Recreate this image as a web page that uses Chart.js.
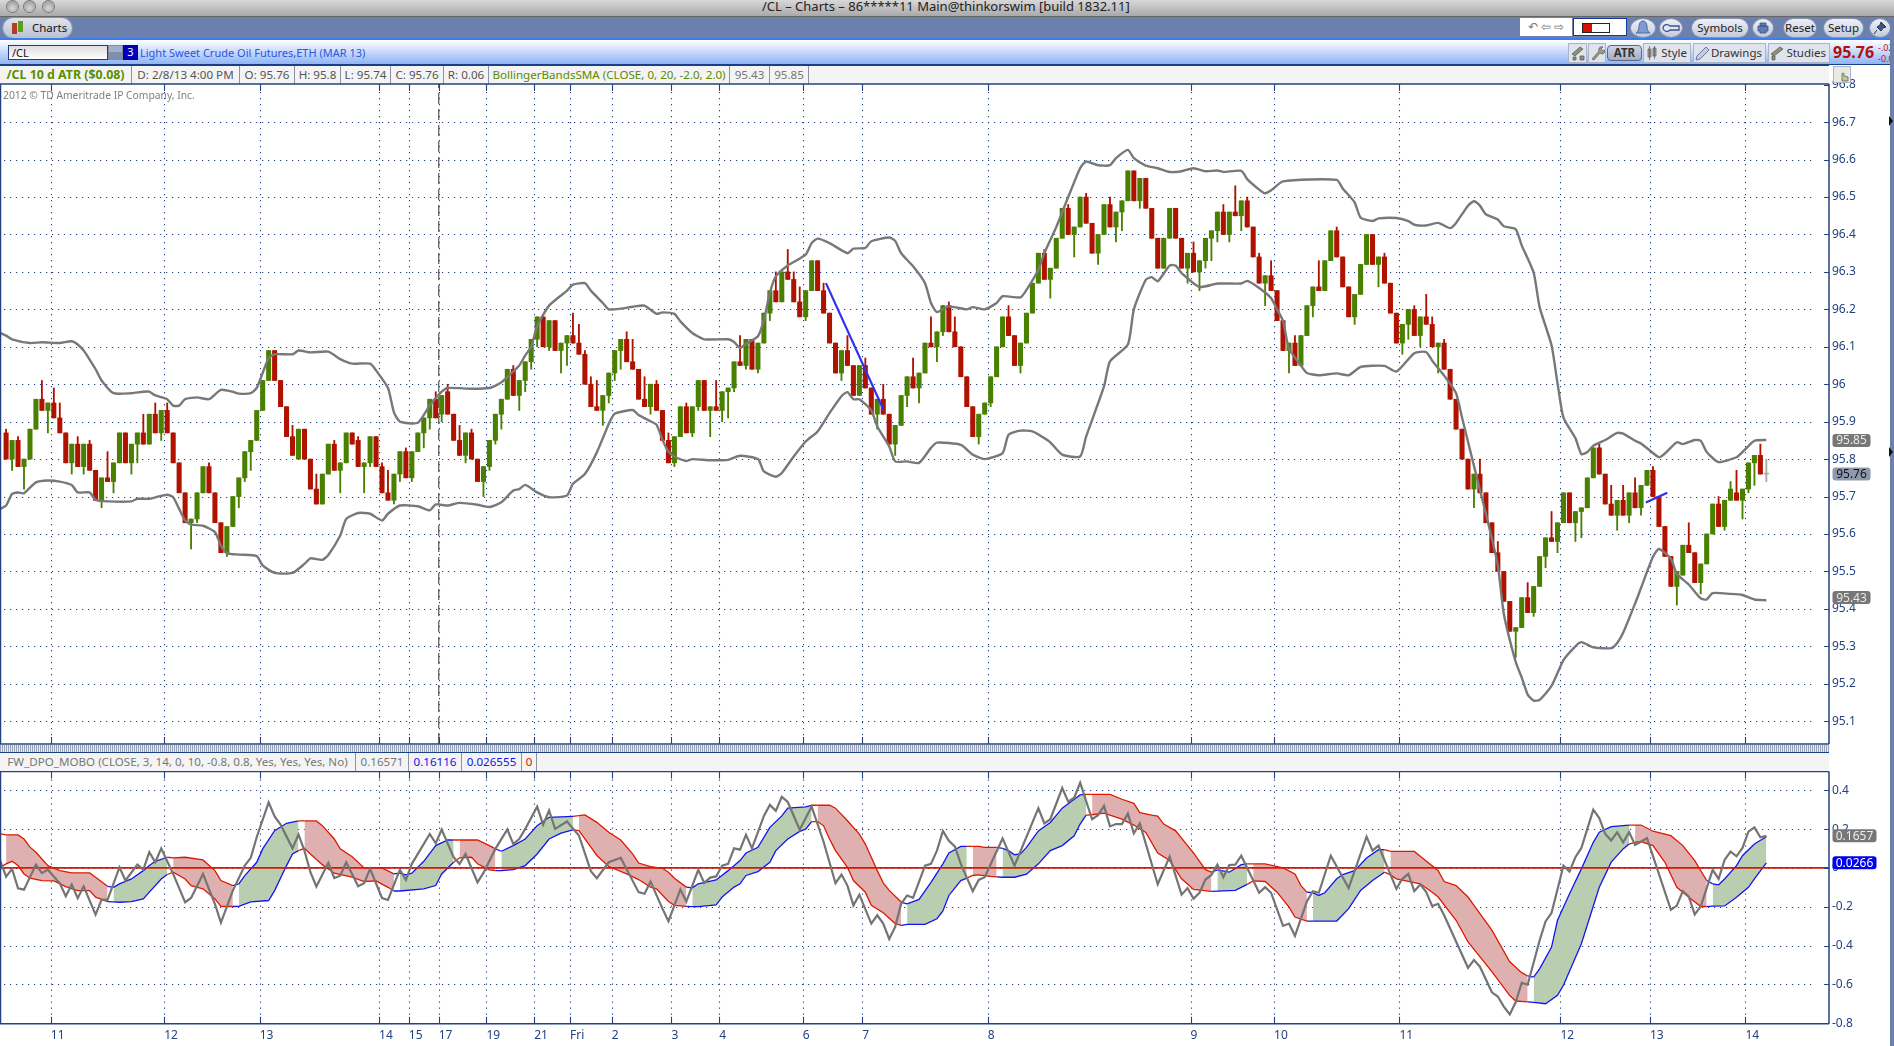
<!DOCTYPE html>
<html><head><meta charset="utf-8">
<script src="https://cdn.jsdelivr.net/npm/chart.js@4/dist/chart.umd.min.js"></script>
<style>
html,body{margin:0;padding:0;background:#fff;width:1894px;height:1046px;overflow:hidden;font-family:"Noto Sans",sans-serif}
.a{position:absolute;white-space:nowrap;box-sizing:border-box}
canvas{position:absolute;display:block}
.cell{position:absolute;top:0;height:100%;border-right:1px solid #8a93a8;font-size:11.6px;line-height:18px;text-align:center;color:#555;box-sizing:border-box;white-space:nowrap}
.pill{position:absolute;top:19px;height:18px;border-radius:9px;background:linear-gradient(#eef0f5,#c3cad9);box-shadow:0 0 0 1px #8092b8;font-size:11.5px;line-height:18px;text-align:center;color:#222}
.btn{position:absolute;top:43px;height:20px;background:#dfe3ec;border:1px solid #a9b4cc;font-size:11.5px;line-height:17px;text-align:right;padding-right:3px;color:#333;box-sizing:border-box}
.dot{position:absolute;top:1px;width:11px;height:11px;border-radius:50%;background:radial-gradient(circle at 50% 65%,#d8d8d8,#8e8e8e);box-shadow:0 0 0 1px #777}
svg.i{position:absolute;z-index:3}
</style></head><body>
<div class="a" style="left:0;top:0;width:1894px;height:17px;background:linear-gradient(#d8d8d8,#a9a9a9);border-bottom:1px solid #666"></div>
<div class="dot" style="left:7px"></div><div class="dot" style="left:24px"></div><div class="dot" style="left:43px"></div>
<div class="a" style="left:762px;top:-2px;font-size:13px;color:#222;line-height:17px">/CL – Charts – 86*****11 Main@thinkorswim [build 1832.11]</div>
<div class="a" style="left:0;top:17px;width:1894px;height:21px;background:#6b80ad"></div>
<div class="a" style="left:3px;top:18px;width:69px;height:20px;border-radius:10px;background:linear-gradient(#dfe3ea,#b9c1d2);box-shadow:0 0 0 1px #8092b8;font-size:11.5px;line-height:20px;padding-left:29px;color:#111">Charts</div>
<div class="a" style="left:12px;top:23px;width:5px;height:11px;background:#b53a2a"></div><div class="a" style="left:18px;top:21px;width:5px;height:11px;background:#5aa020"></div>
<div class="a" style="left:1520px;top:18px;width:52px;height:18px;background:#fff;font-size:12px;line-height:17px;color:#777;text-align:center">↶ ⇦ ⇨</div>
<div class="a" style="left:1573px;top:18px;width:54px;height:18px;background:#fff;border:1px solid #123a9a"></div>
<div class="a" style="left:1582px;top:23px;width:28px;height:10px;background:linear-gradient(90deg,#d81000 33%,#fff 33%);border:1px solid #222"></div>
<div class="pill" style="left:1631px;width:24px;border-radius:50%">&nbsp;</div>
<svg class="i" style="left:1635px;top:20px" width="16" height="16" viewBox="0 0 16 16"><path d="M8 1c3 0 4 3 4 6s1 4 3 6H1c2-2 3-3 3-6s1-6 4-6z" fill="#7d9bd0" stroke="#4d6aa5"/></svg>
<div class="pill" style="left:1660px;width:22px;border-radius:50%">&nbsp;</div>
<svg class="i" style="left:1662px;top:23px" width="18" height="10" viewBox="0 0 18 10"><path d="M1 5a4 4 0 0 1 7-2h9v4H8a4 4 0 0 1-7-2z" fill="#dfe6f4" stroke="#3d5587" stroke-width="1.3"/></svg>
<div class="pill" style="left:1692px;width:56px">Symbols</div>
<div class="pill" style="left:1753px;width:20px;border-radius:50%">&nbsp;</div>
<svg class="i" style="left:1757px;top:22px" width="12" height="12" viewBox="0 0 12 12"><path d="M3 1h6v3H3zM1 4h10v5H9v2H3V9H1z" fill="#5d7bb5" stroke="#34507f" stroke-width=".8"/></svg>
<div class="pill" style="left:1784px;width:32px">Reset</div>
<div class="pill" style="left:1824px;width:39px">Setup</div>
<div class="pill" style="left:1870px;width:20px;border-radius:50%">&nbsp;</div>
<svg class="i" style="left:1873px;top:21px" width="14" height="14" viewBox="0 0 14 14"><path d="M8 1l5 5-3 1-2 3-4-4 3-2zM4 9l-3 4" fill="#3d5587" stroke="#24375c"/></svg>
<div class="a" style="left:0;top:38px;width:1894px;height:2px;background:#3d7cf0"></div>
<div class="a" style="left:0;top:40px;width:1890px;height:25px;background:linear-gradient(#ffffff,#8fb4f6);border-bottom:1px solid #1b3f86"></div>
<div class="a" style="left:8px;top:45px;width:100px;height:15px;background:linear-gradient(#ddd,#fff);border:1px solid #1b3f86;font-size:11px;line-height:13px;padding-left:3px;color:#111">/CL</div>
<div class="a" style="left:108px;top:45px;width:15px;height:15px;background:linear-gradient(#9fb0cc 50%,#7c8fb0 50%);border:1px solid #889"></div>
<div class="a" style="left:123px;top:45px;width:15px;height:15px;background:#0000b8;color:#fff;font-size:11px;line-height:14px;text-align:center">3</div>
<div class="a" style="left:140px;top:44px;font-size:11px;line-height:17px;color:#2a55e0">Light Sweet Crude Oil Futures,ETH (MAR 13)</div>
<div class="btn" style="left:1568px;width:19px"></div><div class="btn" style="left:1588px;width:18px"></div>
<svg class="i" style="left:1570px;top:45px" width="16" height="16" viewBox="0 0 16 16"><path d="M2 9l8-7 3 2-8 7zM3 12h3v3H3zM10 11h4v4h-4z" fill="#8c9078" stroke="#555" stroke-width=".7"/></svg>
<svg class="i" style="left:1590px;top:45px" width="15" height="16" viewBox="0 0 15 16"><path d="M2 14l7-8a3 3 0 0 1 4-4l-2 2 2 2 2-1a3 3 0 0 1-5 3l-6 7z" fill="#9a9e88" stroke="#555" stroke-width=".7"/></svg>
<div class="btn" style="left:1607px;width:35px;top:45px;height:16px;background:linear-gradient(#cfd5e2,#a3aec6);border-radius:4px;text-align:center;padding:0;font-weight:700;line-height:14px;border-color:#667">ATR</div>
<div class="btn" style="left:1643px;width:48px">Style</div>
<svg class="i" style="left:1645px;top:45px" width="14" height="16" viewBox="0 0 14 16"><path d="M3 4h3v8H3zM8 3h3v8H8zM4.500 1v14M9.500 1v13" fill="#9aa088" stroke="#666" stroke-width=".8"/></svg>
<div class="btn" style="left:1693px;width:73px">Drawings</div>
<svg class="i" style="left:1695px;top:45px" width="15" height="16" viewBox="0 0 15 16"><path d="M1 15l1-4 9-9 3 3-9 9z" fill="#c4cdde" stroke="#6b7896"/></svg>
<div class="btn" style="left:1768px;width:62px">Studies</div>
<svg class="i" style="left:1769px;top:45px" width="16" height="16" viewBox="0 0 16 16"><path d="M2 9l9-7 3 2-9 7zM3 11h3v4H3z" fill="#8c9078" stroke="#555" stroke-width=".7"/></svg>
<div class="a" style="left:1833px;top:42px;font-size:16px;font-weight:700;color:#b01010;line-height:20px">95.76</div>
<div class="a" style="left:1878px;top:42px;font-size:9px;color:#c01010;line-height:11px;width:12px;overflow:hidden">-.02<br>-0.0</div>
<div class="a" style="left:0;top:65px;width:1829px;height:19px;background:#f4f4f4;border-top:1px solid #1b3f86"></div>
<div class="a" style="left:0;top:66px;width:809px;height:18px">
<div class="cell" style="left:0;width:132px;color:#5a9000;font-weight:700;font-size:12.4px">/CL 10 d ATR ($0.08)</div>
<div class="cell" style="left:132px;width:108px">D: 2/8/13 4:00 PM</div>
<div class="cell" style="left:240px;width:55px">O: 95.76</div>
<div class="cell" style="left:295px;width:46px">H: 95.8</div>
<div class="cell" style="left:341px;width:50px">L: 95.74</div>
<div class="cell" style="left:391px;width:53px">C: 95.76</div>
<div class="cell" style="left:444px;width:45px">R: 0.06</div>
<div class="cell" style="left:489px;width:241px;color:#5a8a00">BollingerBandsSMA (CLOSE, 0, 20, -2.0, 2.0)</div>
<div class="cell" style="left:730px;width:40px;color:#777">95.43</div>
<div class="cell" style="left:770px;width:39px;color:#777">95.85</div>
</div>
<div class="a" style="left:1833px;top:66px;width:18px;height:17px;background:#e6eadf;border:1px solid #a9b4cc;z-index:5"></div>
<svg class="i" style="left:1836px;top:68px;z-index:6" width="14" height="14" viewBox="0 0 14 14"><path d="M6 13V6a1 1 0 0 1 2 0v2l4 1v4z" fill="#c9c68a" stroke="#666" stroke-width=".8"/></svg>
<div class="a" style="left:3px;top:88px;font-size:10.3px;line-height:14px;color:#808080;z-index:5">2012 © TD Ameritrade IP Company, Inc.</div>
<div class="a" style="left:0;top:745px;width:1829px;height:7px;background:repeating-linear-gradient(90deg,#9aa4b8 0 1px,#e8ebf2 1px 2px)"></div>
<div class="a" style="left:0;top:752px;width:1829px;height:20px;background:#f4f4f4;border-top:1px solid #1b3f86"></div>
<div class="a" style="left:0;top:753px;width:537px;height:18px">
<div class="cell" style="left:0;width:356px;color:#777">FW_DPO_MOBO (CLOSE, 3, 14, 0, 10, -0.8, 0.8, Yes, Yes, Yes, No)</div>
<div class="cell" style="left:356px;width:53px;color:#777">0.16571</div>
<div class="cell" style="left:409px;width:53px;color:#1010f0">0.16116</div>
<div class="cell" style="left:462px;width:60px;color:#1010f0">0.026555</div>
<div class="cell" style="left:522px;width:15px;color:#e01000">0</div>
</div>
<div class="a" style="left:1890px;top:17px;width:4px;height:1029px;background:#6b80ad"></div>
<div class="a" style="left:1889px;top:116px;width:0;height:0;border:5px solid transparent;border-left:4px solid #111;z-index:5"></div>
<div class="a" style="left:1889px;top:447px;width:0;height:0;border:5px solid transparent;border-left:4px solid #111;z-index:5"></div>
<canvas id="main" width="1890" height="684" style="left:0;top:66px"></canvas>
<canvas id="lower" width="1890" height="275" style="left:0;top:771px"></canvas>
<script>
const opens=[95.87,95.80,95.85,95.78,95.80,95.88,95.96,95.93,95.95,95.91,
95.87,95.79,95.84,95.78,95.84,95.77,95.69,95.75,95.74,95.79,
95.87,95.79,95.84,95.87,95.84,95.92,95.87,95.93,95.87,95.79,
95.71,95.63,95.64,95.71,95.78,95.71,95.63,95.55,95.62,95.70,
95.75,95.82,95.85,95.93,96.01,96.09,96.01,95.94,95.86,95.80,
95.88,95.80,95.72,95.68,95.76,95.84,95.77,95.79,95.87,95.85,
95.78,95.79,95.86,95.78,95.71,95.69,95.76,95.82,95.75,95.82,
95.87,95.91,95.96,95.92,95.98,95.92,95.85,95.81,95.87,95.80,
95.74,95.78,95.85,95.92,95.96,96.04,95.97,96.01,96.06,96.12,
96.18,96.10,96.17,96.09,96.11,96.13,96.11,96.08,96.00,95.94,
95.93,95.97,96.03,96.09,96.12,96.06,96.04,95.96,95.94,96.00,
95.93,95.85,95.79,95.86,95.94,95.87,95.94,96.01,95.93,95.94,
95.93,95.98,95.99,96.06,96.05,96.12,96.04,96.11,96.19,96.25,
96.22,96.30,96.28,96.22,96.18,96.25,96.33,96.25,96.19,96.11,
96.03,96.09,96.05,95.97,96.05,95.99,95.92,95.96,95.92,95.84,
95.89,95.97,96.02,95.99,96.03,96.11,96.10,96.14,96.21,96.14,
96.10,96.02,95.94,95.86,95.92,95.95,96.02,96.10,96.18,96.13,
96.05,96.11,96.19,96.27,96.35,96.28,96.31,96.39,96.47,96.40,
96.42,96.50,96.43,96.35,96.40,96.48,96.42,96.46,96.49,96.57,
96.49,96.55,96.47,96.39,96.31,96.39,96.47,96.39,96.31,96.35,
96.30,96.33,96.39,96.41,96.46,96.40,96.46,96.45,96.49,96.42,
96.34,96.27,96.29,96.25,96.17,96.09,96.11,96.05,96.13,96.21,
96.26,96.25,96.33,96.41,96.34,96.26,96.18,96.24,96.32,96.40,
96.32,96.34,96.27,96.19,96.11,96.16,96.20,96.13,96.18,96.16,
96.10,96.11,96.04,95.96,95.88,95.80,95.72,95.76,95.71,95.63,
95.55,95.50,95.42,95.34,95.35,95.43,95.39,95.46,95.54,95.59,
95.58,95.63,95.71,95.63,95.66,95.67,95.75,95.83,95.76,95.68,
95.65,95.69,95.65,95.71,95.67,95.73,95.77,95.70,95.62,95.54,
95.46,95.49,95.57,95.55,95.47,95.52,95.60,95.68,95.62,95.69,
95.71,95.69,95.72,95.79,95.81,95.76];
const closes=[95.80,95.85,95.78,95.80,95.88,95.96,95.93,95.95,95.91,95.87,
95.79,95.84,95.78,95.84,95.77,95.69,95.75,95.74,95.79,95.87,
95.79,95.84,95.87,95.84,95.92,95.87,95.93,95.87,95.79,95.71,
95.63,95.64,95.71,95.78,95.71,95.63,95.55,95.62,95.70,95.75,
95.82,95.85,95.93,96.01,96.09,96.01,95.94,95.86,95.81,95.88,
95.80,95.72,95.68,95.76,95.84,95.77,95.79,95.87,95.84,95.78,
95.79,95.86,95.78,95.71,95.69,95.76,95.82,95.75,95.82,95.87,
95.91,95.96,95.91,95.97,95.92,95.85,95.81,95.87,95.80,95.74,
95.78,95.85,95.92,95.96,96.04,95.97,96.01,96.06,96.12,96.18,
96.10,96.17,96.09,96.11,96.13,96.11,96.08,96.00,95.94,95.93,
95.97,96.03,96.09,96.12,96.06,96.04,95.96,95.94,96.00,95.93,
95.85,95.79,95.86,95.94,95.87,95.94,96.01,95.93,95.94,95.93,
95.98,95.99,96.06,96.05,96.12,96.04,96.11,96.19,96.25,96.22,
96.30,96.28,96.22,96.18,96.25,96.33,96.25,96.19,96.11,96.03,
96.09,96.05,95.97,96.05,95.99,95.92,95.96,95.92,95.84,95.89,
95.97,96.02,95.99,96.03,96.11,96.10,96.14,96.21,96.14,96.10,
96.02,95.94,95.86,95.92,95.95,96.02,96.10,96.18,96.13,96.05,
96.11,96.19,96.27,96.35,96.28,96.31,96.39,96.47,96.40,96.42,
96.50,96.43,96.35,96.40,96.48,96.42,96.46,96.49,96.57,96.49,
96.55,96.47,96.39,96.31,96.39,96.47,96.39,96.31,96.35,96.30,
96.33,96.39,96.41,96.46,96.40,96.46,96.45,96.49,96.42,96.34,
96.27,96.29,96.25,96.17,96.09,96.11,96.05,96.13,96.21,96.26,
96.25,96.33,96.41,96.34,96.26,96.18,96.24,96.32,96.40,96.32,
96.34,96.27,96.19,96.11,96.16,96.20,96.13,96.18,96.16,96.10,
96.11,96.04,95.96,95.88,95.80,95.72,95.76,95.71,95.63,95.55,
95.50,95.42,95.34,95.35,95.43,95.39,95.46,95.54,95.59,95.58,
95.63,95.71,95.63,95.66,95.67,95.75,95.83,95.76,95.68,95.65,
95.69,95.65,95.71,95.67,95.73,95.77,95.70,95.62,95.54,95.46,
95.50,95.57,95.55,95.47,95.52,95.60,95.68,95.62,95.69,95.72,
95.69,95.72,95.79,95.81,95.76,95.76];
const highs=[95.88,95.85,95.86,95.80,95.88,95.96,96.01,95.95,95.99,95.95,
95.87,95.84,95.86,95.84,95.85,95.77,95.75,95.82,95.79,95.87,
95.87,95.84,95.87,95.92,95.92,95.95,95.93,95.95,95.87,95.79,
95.71,95.64,95.71,95.78,95.79,95.71,95.63,95.62,95.70,95.75,
95.82,95.85,95.93,96.01,96.09,96.09,96.01,95.94,95.89,95.88,
95.88,95.80,95.76,95.76,95.84,95.85,95.79,95.87,95.87,95.86,
95.79,95.86,95.86,95.79,95.77,95.76,95.82,95.83,95.82,95.87,
95.91,95.96,95.98,95.97,96.00,95.92,95.89,95.87,95.88,95.80,
95.78,95.85,95.92,95.96,96.04,96.05,96.01,96.06,96.12,96.18,
96.18,96.17,96.17,96.11,96.13,96.19,96.16,96.09,96.02,96.01,
95.97,96.03,96.09,96.12,96.14,96.12,96.04,96.02,96.00,96.01,
95.93,95.87,95.86,95.94,95.95,95.94,96.01,96.01,95.94,96.01,
95.98,95.99,96.06,96.13,96.12,96.12,96.11,96.19,96.25,96.30,
96.30,96.36,96.30,96.26,96.25,96.33,96.33,96.27,96.19,96.11,
96.09,96.13,96.05,96.05,96.07,95.99,95.96,96.00,95.92,95.89,
95.97,96.02,96.07,96.03,96.11,96.18,96.14,96.21,96.22,96.18,
96.10,96.02,95.94,95.92,95.95,96.02,96.10,96.18,96.21,96.13,
96.11,96.19,96.27,96.35,96.36,96.31,96.39,96.47,96.48,96.42,
96.50,96.51,96.43,96.40,96.48,96.50,96.46,96.49,96.57,96.57,
96.55,96.55,96.47,96.39,96.39,96.47,96.47,96.39,96.35,96.38,
96.33,96.39,96.41,96.46,96.48,96.46,96.53,96.49,96.50,96.42,
96.35,96.29,96.33,96.25,96.17,96.11,96.13,96.13,96.21,96.26,
96.33,96.33,96.41,96.42,96.34,96.26,96.24,96.32,96.40,96.40,
96.34,96.35,96.27,96.19,96.16,96.20,96.21,96.18,96.24,96.18,
96.11,96.12,96.04,95.96,95.88,95.80,95.76,95.80,95.71,95.63,
95.58,95.50,95.42,95.35,95.43,95.47,95.46,95.54,95.59,95.66,
95.63,95.71,95.71,95.66,95.67,95.75,95.83,95.84,95.76,95.73,
95.69,95.73,95.71,95.75,95.73,95.77,95.78,95.70,95.62,95.54,
95.50,95.57,95.63,95.55,95.52,95.60,95.68,95.70,95.69,95.74,
95.77,95.72,95.79,95.81,95.84,95.80];
const lows=[95.80,95.77,95.78,95.72,95.80,95.88,95.93,95.87,95.91,95.87,
95.79,95.76,95.78,95.76,95.77,95.69,95.67,95.74,95.71,95.79,
95.79,95.76,95.79,95.84,95.84,95.87,95.85,95.87,95.79,95.71,
95.63,95.56,95.63,95.71,95.71,95.63,95.55,95.54,95.62,95.67,
95.74,95.77,95.85,95.93,96.01,96.01,95.94,95.86,95.81,95.80,
95.80,95.72,95.68,95.68,95.76,95.77,95.71,95.79,95.84,95.78,
95.71,95.78,95.78,95.71,95.69,95.68,95.74,95.75,95.74,95.82,
95.83,95.88,95.91,95.90,95.92,95.85,95.81,95.79,95.80,95.74,
95.70,95.77,95.84,95.88,95.96,95.97,95.93,95.98,96.04,96.10,
96.10,96.09,96.09,96.03,96.05,96.11,96.08,96.00,95.94,95.93,
95.89,95.95,96.01,96.04,96.06,96.04,95.96,95.94,95.92,95.93,
95.85,95.79,95.78,95.86,95.87,95.86,95.93,95.93,95.86,95.93,
95.90,95.91,95.98,96.05,96.04,96.04,96.03,96.11,96.17,96.22,
96.22,96.28,96.22,96.18,96.17,96.25,96.25,96.19,96.11,96.03,
96.01,96.05,95.97,95.97,95.99,95.92,95.88,95.92,95.84,95.81,
95.89,95.94,95.99,95.95,96.03,96.10,96.06,96.13,96.14,96.10,
96.02,95.94,95.86,95.84,95.92,95.94,96.02,96.10,96.13,96.05,
96.03,96.11,96.19,96.27,96.28,96.23,96.31,96.39,96.40,96.34,
96.42,96.43,96.35,96.32,96.40,96.42,96.38,96.41,96.49,96.49,
96.47,96.47,96.39,96.31,96.31,96.39,96.39,96.31,96.27,96.30,
96.25,96.31,96.33,96.38,96.40,96.38,96.45,96.41,96.42,96.34,
96.27,96.21,96.25,96.17,96.09,96.03,96.05,96.05,96.13,96.18,
96.25,96.25,96.33,96.34,96.26,96.18,96.16,96.24,96.32,96.32,
96.26,96.27,96.19,96.11,96.08,96.12,96.13,96.10,96.16,96.10,
96.03,96.04,95.96,95.88,95.80,95.72,95.67,95.71,95.63,95.55,
95.50,95.42,95.34,95.27,95.35,95.39,95.38,95.46,95.51,95.58,
95.55,95.63,95.63,95.58,95.59,95.67,95.75,95.76,95.68,95.65,
95.61,95.65,95.63,95.67,95.65,95.73,95.70,95.62,95.54,95.46,
95.41,95.49,95.55,95.47,95.44,95.52,95.60,95.62,95.61,95.69,
95.69,95.64,95.71,95.73,95.76,95.74];

const bbUpperIdx=[-1,0,1,4,6,9,11,12,13,14,15,16,18,21,23,24,25,27,28,29,30,32,34,36,38,39,41,42,43,44,45,48,49,51,54,56,58,61,62,64,65,66,69,71,73,74,78,81,83,86,87,88,89,91,94,95,97,98,100,101,103,105,107,109,110,112,113,115,117,121,122,123,124,126,127,128,129,131,134,135,136,138,141,142,144,145,148,149,150,152,154,155,156,158,161,162,164,166,167,170,171,173,174,176,178,180,181,183,185,186,188,189,191,193,195,197,199,201,203,204,207,208,210,211,212,214,223,224,226,227,229,230,233,235,236,238,240,242,243,245,246,247,248,250,251,253,254,256,257,259,260,261,263,264,265,266,268,270,271,273,274,277,278,280,281,283,284,285,287,290,291,293,295];
const bbUpper=[96.137,96.13,96.12,96.11,96.112,96.11,96.115,96.106,96.09,96.066,96.04,96.01,95.976,95.976,95.98,95.98,95.97,95.96,95.943,95.943,95.96,95.965,95.96,95.985,95.98,95.975,95.976,95.99,96.03,96.07,96.08,96.08,96.09,96.085,96.087,96.067,96.055,96.055,96.037,95.99,95.925,95.90,95.897,95.943,95.98,95.99,95.988,95.99,96.005,96.05,96.077,96.10,96.155,96.21,96.25,96.266,96.27,96.25,96.217,96.20,96.202,96.207,96.21,96.188,96.192,96.188,96.168,96.137,96.12,96.12,96.113,96.097,96.108,96.128,96.172,96.244,96.288,96.317,96.346,96.377,96.389,96.377,96.35,96.362,96.364,96.382,96.392,96.383,96.35,96.315,96.27,96.217,96.193,96.208,96.2,96.206,96.2,96.217,96.235,96.232,96.252,96.306,96.35,96.42,96.50,96.577,96.595,96.585,96.585,96.604,96.626,96.604,96.584,96.577,96.567,96.569,96.577,96.569,96.571,96.567,96.57,96.548,96.52,96.51,96.518,96.542,96.546,96.523,96.486,96.445,96.436,96.443,96.444,96.436,96.426,96.424,96.431,96.417,96.431,96.477,96.489,96.477,96.454,96.44,96.422,96.414,96.371,96.298,96.206,96.104,96.003,95.911,95.856,95.813,95.819,95.836,95.851,95.87,95.868,95.849,95.842,95.805,95.815,95.845,95.84,95.851,95.849,95.819,95.792,95.805,95.819,95.849,95.851];
const bbLowerIdx=[-1,0,1,2,3,5,7,9,11,12,14,15,17,21,22,24,25,27,28,29,30,31,33,35,36,37,39,42,43,45,48,50,51,53,54,56,57,59,61,63,64,66,69,71,72,74,76,79,81,83,85,86,87,89,91,94,95,97,99,101,102,105,106,108,109,110,111,112,114,115,118,121,123,126,127,129,130,132,134,136,138,140,141,142,143,145,146,148,149,151,153,155,156,160,162,164,167,168,170,172,174,175,177,180,181,184,185,188,189,191,192,193,195,196,197,200,203,207,208,210,212,213,214,215,217,218,220,223,225,227,231,233,236,238,239,241,243,244,246,248,250,251,253,254,255,256,257,259,261,263,264,266,269,270,271,273,274,276,277,279,280,282,284,285,286,289,291,293,295];
const bbLower=[95.667,95.676,95.707,95.711,95.709,95.738,95.743,95.74,95.731,95.711,95.711,95.691,95.687,95.687,95.694,95.694,95.698,95.705,95.698,95.667,95.636,95.625,95.622,95.605,95.569,95.549,95.545,95.541,95.516,95.496,95.496,95.52,95.535,95.531,95.544,95.596,95.64,95.656,95.654,95.636,95.654,95.676,95.674,95.663,95.679,95.676,95.683,95.678,95.672,95.685,95.716,95.72,95.731,95.711,95.698,95.703,95.734,95.76,95.818,95.894,95.921,95.931,95.918,95.901,95.892,95.852,95.82,95.807,95.795,95.80,95.797,95.798,95.809,95.80,95.767,95.753,95.763,95.807,95.847,95.874,95.923,95.968,95.979,95.96,95.96,95.93,95.887,95.834,95.794,95.794,95.79,95.83,95.844,95.838,95.812,95.80,95.816,95.865,95.876,95.874,95.856,95.845,95.812,95.807,95.86,95.994,96.061,96.106,96.2,96.279,96.286,96.275,96.317,96.317,96.297,96.26,96.269,96.269,96.276,96.257,96.23,96.2,96.169,96.095,96.05,96.03,96.024,96.029,96.024,96.046,96.049,96.034,96.083,96.086,96.063,96.023,95.976,95.911,95.782,95.654,95.516,95.387,95.258,95.217,95.171,95.155,95.157,95.194,95.263,95.3,95.311,95.297,95.295,95.309,95.336,95.414,95.456,95.539,95.56,95.534,95.493,95.465,95.428,95.425,95.442,95.44,95.437,95.425,95.423];

const trendIdxA=[137.4,147.1], trendValA=[96.27,95.93];
const trendIdxB=[274.8,278.4], trendValB=[95.684,95.71];

const dpoIdx=[-1,0,1,2,3,5,6,7,9,10,11,12,13,15,16,17,19,20,22,23,24,25,26,28,30,31,33,35,36,38,40,41,42,44,45,46,48,49,50,51,52,54,55,56,57,59,60,61,63,64,66,67,68,71,72,73,75,76,77,79,80,82,84,85,86,87,89,90,91,92,94,96,98,99,101,103,106,107,108,110,111,113,114,116,117,118,119,120,121,122,123,124,125,127,128,129,130,131,133,135,137,139,140,141,142,143,145,146,147,148,149,150,151,152,154,155,156,157,158,159,160,162,163,164,167,169,173,174,175,177,178,179,180,182,183,184,185,186,187,188,189,190,193,195,197,198,199,200,201,202,203,204,205,206,207,210,211,212,214,215,216,218,219,220,222,225,228,229,230,233,234,235,236,237,238,239,240,241,245,246,247,249,250,251,252,253,254,255,257,258,259,261,262,263,264,266,267,268,269,270,271,272,273,275,279,280,281,282,283,284,286,287,288,289,290,291,292,293,294,295];
const dpoVal=[.038,-.045,-.005,-.105,-.112,.017,-.027,-.009,-.079,-.146,-.086,-.156,-.095,-.241,-.163,-.165,.003,-.065,.017,-.009,.081,.029,.101,-.031,-.177,-.155,-.031,-.186,-.282,-.117,.012,.052,.158,.338,.265,.223,.101,.172,.089,-.022,-.096,.026,-.052,-.04,.029,-.095,-.079,-.005,-.155,-.165,-.009,-.062,.021,.175,.127,.198,.055,.021,.072,-.074,-.026,.098,.198,.124,.149,.201,.316,.223,.296,.201,.239,.167,-.017,-.053,.029,.052,-.125,-.133,-.07,-.21,-.275,-.111,-.173,-.01,-.077,-.05,-.044,.012,.021,.101,.094,.171,.101,.268,.325,.294,.366,.34,.197,.316,.135,-.079,-.034,-.091,-.193,-.138,-.287,-.244,-.287,-.366,-.304,-.185,-.142,-.154,.012,.021,.089,.191,.14,.111,.021,-.12,-.062,-.048,.152,.012,.308,.229,.251,.412,.342,.362,.439,.251,.272,.32,.214,.226,.226,.28,.178,.229,-.084,.058,-.138,-.104,-.159,-.128,-.06,-.036,.017,-.048,.015,.017,.063,-.128,-.099,-.128,-.299,-.287,-.35,-.173,-.12,-.128,.063,-.104,.161,.089,.115,-.108,-.056,-.031,-.12,-.085,-.125,-.197,-.185,-.244,-.515,-.475,-.509,-.641,-.663,-.715,-.755,-.691,-.592,-.602,-.374,-.276,-.232,.012,-.019,.055,.103,.30,.257,.175,.141,.184,.132,.184,.118,.153,-.216,-.194,-.12,-.148,-.24,-.199,-.01,-.057,.041,.084,.06,.103,.187,.209,.158,.165];

const bandUpperIdx=[-1,0,2,3,4,5,7,9,11,14,15,17,18,19,21,23,24,25,27,28,30,33,35,36,38,39,40,42,43,45,47,49,50,52,53,55,56,58,60,63,65,66,67,68,70,72,74,75,76,79,81,82,83,85,87,89,91,95,96,97,99,101,103,105,106,108,110,111,112,114,115,116,119,121,123,124,126,128,130,131,134,135,136,138,139,141,143,144,146,147,148,150,151,153,155,157,158,160,161,162,163,164,166,167,168,169,170,171,173,175,177,179,180,181,182,185,187,189,190,192,193,194,196,198,199,201,202,203,205,207,208,209,211,214,216,217,218,219,220,221,223,224,226,228,230,231,232,236,237,240,241,243,245,246,249,252,254,255,256,257,259,260,262,264,266,267,269,272,273,274,276,279,281,283,285,286,287,288,290,291,293,295];
const bandUpper=[.175,.17,.17,.149,.107,.081,.012,-.014,-.026,-.026,-.048,-.095,-.10,-.082,-.057,-.014,.012,.034,.055,.052,.055,.041,-.014,-.065,-.091,-.082,-.04,.029,.098,.192,.23,.242,.242,.242,.218,.149,.098,.058,0,0,-.031,-.027,-.036,-.027,.034,.115,.144,.144,.144,.144,.115,.098,.086,.115,.149,.218,.261,.266,.27,.273,.235,.184,.144,.072,.025,.007,-.002,-.022,-.053,-.099,-.103,-.082,-.062,-.014,.038,.077,.106,.209,.268,.308,.315,.323,.323,.323,.308,.243,.174,.123,-.014,-.077,-.116,-.176,-.185,-.162,-.074,.021,.077,.111,.111,.111,.111,.106,.106,.101,.089,.068,.072,.106,.191,.234,.308,.354,.376,.379,.379,.379,.354,.333,.285,.272,.267,.226,.191,.115,.077,-.009,-.022,-.01,-.022,.017,.021,.021,.021,0,-.031,-.091,-.125,-.128,-.142,-.128,-.056,-.034,-.014,.051,.094,.094,.085,.085,.06,-.014,-.07,-.091,-.15,-.193,-.321,-.484,-.54,-.557,-.563,-.52,-.408,-.27,-.134,-.005,.132,.184,.213,.221,.221,.221,.189,.166,.115,.038,-.065,-.082,-.087,-.057,.012,.063,.123,.161];
const bandLowerIdx=[-1,0,1,2,3,4,6,8,10,12,14,15,17,18,19,21,23,24,26,27,28,30,31,33,35,36,37,38,39,41,44,45,47,48,49,50,51,53,55,58,60,62,64,65,66,70,72,73,75,76,78,79,81,82,83,85,87,89,91,93,95,96,98,99,101,104,106,108,109,111,112,114,115,116,119,120,122,123,124,126,128,129,131,133,134,135,136,137,138,139,141,142,144,145,147,149,150,151,154,156,157,158,160,161,162,163,165,166,167,169,171,173,175,177,179,180,181,182,184,187,189,191,193,195,197,199,202,203,206,208,209,211,213,215,216,218,219,223,225,227,229,231,232,233,237,239,240,243,245,249,252,253,255,256,258,260,261,264,267,269,271,272,273,274,276,278,280,282,284,285,286,288,290,292,293,295];
const bandLower=[.003,.021,.034,.012,-.031,-.053,-.065,-.067,-.096,-.117,-.117,-.151,-.174,-.175,-.177,-.174,-.16,-.125,-.057,-.034,-.022,-.057,-.091,-.108,-.16,-.198,-.199,-.199,-.198,-.175,-.168,-.117,.012,.072,.089,.101,.072,.017,-.027,-.048,-.07,-.067,-.10,-.119,-.119,-.108,-.091,-.031,.029,.052,.055,.021,-.01,-.014,-.014,-.009,.012,.072,.149,.179,.196,.192,.107,.064,.007,-.031,-.06,-.099,-.108,-.173,-.193,-.198,-.20,-.20,-.19,-.15,-.099,-.082,-.039,-.019,.029,.089,.149,.188,.20,.239,.239,.217,.149,.089,.003,-.065,-.125,-.193,-.231,-.287,-.296,-.291,-.291,-.262,-.222,-.142,-.065,-.053,-.039,-.036,-.044,-.046,-.048,-.048,-.032,.021,.089,.115,.166,.226,.272,.274,.282,.251,.221,.183,.077,.038,-.056,-.111,-.121,-.12,-.116,-.085,-.067,-.07,-.125,-.202,-.253,-.274,-.274,-.274,-.21,-.116,-.065,-.022,-.036,-.056,-.082,-.125,-.15,-.27,-.381,-.535,-.658,-.686,-.691,-.693,-.70,-.657,-.605,-.391,-.10,.03,.098,.123,.132,.136,.115,.029,-.10,-.151,-.199,-.199,-.197,-.196,-.151,-.10,-.057,.026];
const bullSpans=[[18,27],[39,49],[66,75],[83,95],[115,135],[151,161],[167,181],[203,208],[219,231],[256,272],[286,295]];
const bearSpans=[[0,17],[28,38],[50,65],[76,82],[96,114],[136,150],[162,166],[182,202],[209,218],[232,255],[273,285]];

const mainTicks=[95.1,95.2,95.3,95.4,95.5,95.6,95.7,95.8,95.9,96,96.1,96.2,96.3,96.4,96.5,96.6,96.7,96.8];
const lowerTicks=[-0.8,-0.6,-0.4,-0.2,0,0.2,0.4];
const timeTickIdx=[7.5,26.5,42.5,62.5,67.5,72.5,80.5,88.5,94.5,101.5,111.5,119.5,133.5,143.5,164.5,198.5,212.5,233.5,260.5,275.5,291.5];
const timeTickLabels=['11','12','13','14','15','17','19','21','Fri','2','3','4','6','7','8','9','10','11','12','13','14'];
const cursorIdx=[72.5,72.5];
const zeroVal=[0,0];
const mainTags=[{v:95.85,t:'95.85',bg:'#777777',fg:'#e8e8e8'},{v:95.76,t:'95.76',bg:'#8f99ad',fg:'#111111'},{v:95.43,t:'95.43',bg:'#777777',fg:'#e8e8e8'}];
const lowerTags=[{v:0.1657,t:'0.1657',bg:'#777777',fg:'#eeeeee'},{v:0.0266,t:'0.0266',bg:'#0000f0',fg:'#ffffff'}];

/* ---------- styling and scale set-up ---------- */
const NAVY='#24427f', GREEN='#4a8000', RED='#b01200', GREY='#787878';
const X_MIN=-1.022, X_MAX=305.5;
const idx=opens.map((_,i)=>i);
const pts=(xs,ys)=>xs.map((x,i)=>({x,y:ys[i]}));
const candleColor=i=>closes[i]>opens[i]?GREEN:(closes[i]<opens[i]?RED:'#a8a8a8');

const frame={id:'frame',
 beforeDatasetsDraw(c){
  const g=c.ctx,a=c.chartArea,ys=c.scales.y,xs=c.scales.x;
  g.save();g.strokeStyle=NAVY;g.lineWidth=1.1;g.setLineDash([1.2,4.8]);
  ys.ticks.forEach(t=>{const y=Math.round(ys.getPixelForValue(t.value))+.5;
    if(y<=a.top+2||y>=a.bottom-2)return;
    g.beginPath();g.moveTo(a.left+4,y);g.lineTo(1814,y);g.stroke();});
  xs.ticks.forEach(t=>{const x=Math.round(xs.getPixelForValue(t.value))+.5;
    g.beginPath();g.moveTo(x,a.top+8);g.lineTo(x,a.bottom-8);g.stroke();});
  g.restore();
 },
 afterDraw(c){
  const g=c.ctx,a=c.chartArea,ys=c.scales.y,xs=c.scales.x;
  g.save();g.strokeStyle=NAVY;g.lineWidth=1.5;
  g.beginPath();g.moveTo(.5,a.top);g.lineTo(.5,a.bottom);g.moveTo(0,a.top);g.lineTo(a.right,a.top);
  g.moveTo(0,a.bottom);g.lineTo(a.right,a.bottom);g.moveTo(a.right,a.top);g.lineTo(a.right,a.bottom);g.stroke();
  g.lineWidth=1.1;g.beginPath();
  ys.ticks.forEach(t=>{const y=Math.round(ys.getPixelForValue(t.value))+.5;g.moveTo(a.right-5,y);g.lineTo(a.right,y);});
  xs.ticks.forEach(t=>{const x=Math.round(xs.getPixelForValue(t.value))+.5;
    g.moveTo(x,a.top);g.lineTo(x,a.top+7);g.moveTo(x,a.bottom-7);g.lineTo(x,a.bottom);});
  g.stroke();
  const tags=c.canvas.id==='main'?mainTags:lowerTags;
  const w=c.canvas.id==='main'?38:44;
  g.font='12px "Noto Sans"';g.textBaseline='middle';g.textAlign='center';
  tags.forEach(t=>{const y=ys.getPixelForValue(t.v);
    g.fillStyle=t.bg;g.beginPath();g.roundRect(a.right+3.5,y-6.5,w,13,3);g.fill();
    g.fillStyle=t.fg;g.fillText(t.t,a.right+3.5+w/2,y+.5);});
  g.restore();
 }};

const xScale=(labels)=>({type:'linear',min:X_MIN,max:X_MAX,offset:false,
  grid:{display:false,offset:false,drawTicks:false,tickLength:0},border:{display:false},
  afterBuildTicks:ax=>{ax.ticks=timeTickIdx.map(v=>({value:v}));},
  afterFit:ax=>{ax.height=labels?22.3:0;ax.paddingLeft=0;ax.paddingRight=0;},
  ticks:labels?{autoSkip:false,maxRotation:0,align:'start',padding:5,color:NAVY,font:{family:'"Noto Sans"',size:12},
    callback:(v,i)=>timeTickLabels[i]}:{display:false}});
const yScale=(mn,mx,ticks,fmt)=>({type:'linear',position:'right',min:mn,max:mx,
  grid:{display:false,drawTicks:false,tickLength:0},border:{display:false},
  afterBuildTicks:ax=>{ax.ticks=ticks.map(v=>({value:v}));},
  afterFit:ax=>{ax.width=61;ax.paddingTop=0;ax.paddingBottom=0;},
  ticks:{autoSkip:false,padding:3,color:NAVY,font:{family:'"Noto Sans"',size:12},callback:fmt}});
const base={responsive:false,animation:false,devicePixelRatio:1,events:[],
  plugins:{legend:{display:false},tooltip:{enabled:false},title:{display:false}}};

new Chart(document.getElementById('main'),{type:'bar',plugins:[frame],
 data:{datasets:[
  {type:'line',label:'BB upper',data:pts(bbUpperIdx,bbUpper),borderColor:GREY,borderWidth:2.4,pointRadius:0,tension:.2,order:1},
  {type:'line',label:'BB lower',data:pts(bbLowerIdx,bbLower),borderColor:GREY,borderWidth:2.4,pointRadius:0,tension:.2,order:1},
  {type:'line',label:'Trend A',data:pts(trendIdxA,trendValA),borderColor:'#3030f0',borderWidth:2.2,pointRadius:0,order:0},
  {type:'line',label:'Trend B',data:pts(trendIdxB,trendValB),borderColor:'#3030f0',borderWidth:2.2,pointRadius:0,order:0},
  {type:'line',label:'Cursor',data:pts(cursorIdx,[95.039,96.802]),borderColor:'#6e6e6e',borderWidth:1.4,borderDash:[11,5],pointRadius:0,order:4},
  {label:'Wick',data:idx.map(i=>({x:i,y:[lows[i],highs[i]]})),backgroundColor:idx.map(candleColor),barThickness:1.2,grouped:false,order:3},
  {label:'Body',data:idx.map(i=>({x:i,y:[opens[i],closes[i]]})),backgroundColor:idx.map(candleColor),barThickness:4.4,grouped:false,minBarLength:1,order:2}
 ]},
 options:{...base,layout:{padding:{top:18,bottom:6,left:0,right:0}},
  scales:{x:xScale(false),y:yScale(95.039,96.802,mainTicks,v=>String(v))}}});

const inSpan=(spans,a,b)=>spans.some(s=>a>=s[0]&&b<=s[1]);
const fillFor=c=>{const a=bandUpperIdx[c.p0DataIndex],b=bandUpperIdx[c.p1DataIndex];
  return inSpan(bullSpans,a,b)?'#b9ceb1':inSpan(bearSpans,a,b)?'#deb0b0':'rgba(255,255,255,0)';};
const lineFor=list=>c=>{const a=list[c.p0DataIndex],b=list[c.p1DataIndex];
  return bullSpans.some(s=>a>=s[0]-1&&b<=s[1])?'#1414f0':'#e01800';};

new Chart(document.getElementById('lower'),{type:'line',plugins:[frame],
 data:{datasets:[
  {label:'Band upper',data:pts(bandUpperIdx,bandUpper),fill:1,backgroundColor:'rgba(255,255,255,0)',borderWidth:1.3,pointRadius:0,order:3,
    segment:{backgroundColor:fillFor,borderColor:lineFor(bandUpperIdx)}},
  {label:'Band lower',data:pts(bandLowerIdx,bandLower),fill:false,borderWidth:1.3,pointRadius:0,order:2,
    segment:{borderColor:lineFor(bandLowerIdx)}},
  {label:'Zero',data:pts([X_MIN,X_MAX],zeroVal),borderColor:'#d81800',borderWidth:1.6,pointRadius:0,order:1},
  {label:'DPO',data:pts(dpoIdx,dpoVal),borderColor:'#747474',borderWidth:2.2,pointRadius:0,order:0}
 ]},
 options:{...base,layout:{padding:{top:0.5,bottom:0,left:0,right:0}},
  scales:{x:xScale(true),y:yScale(-0.803,0.497,lowerTicks,v=>String(v))}}});
</script>
</body></html>
